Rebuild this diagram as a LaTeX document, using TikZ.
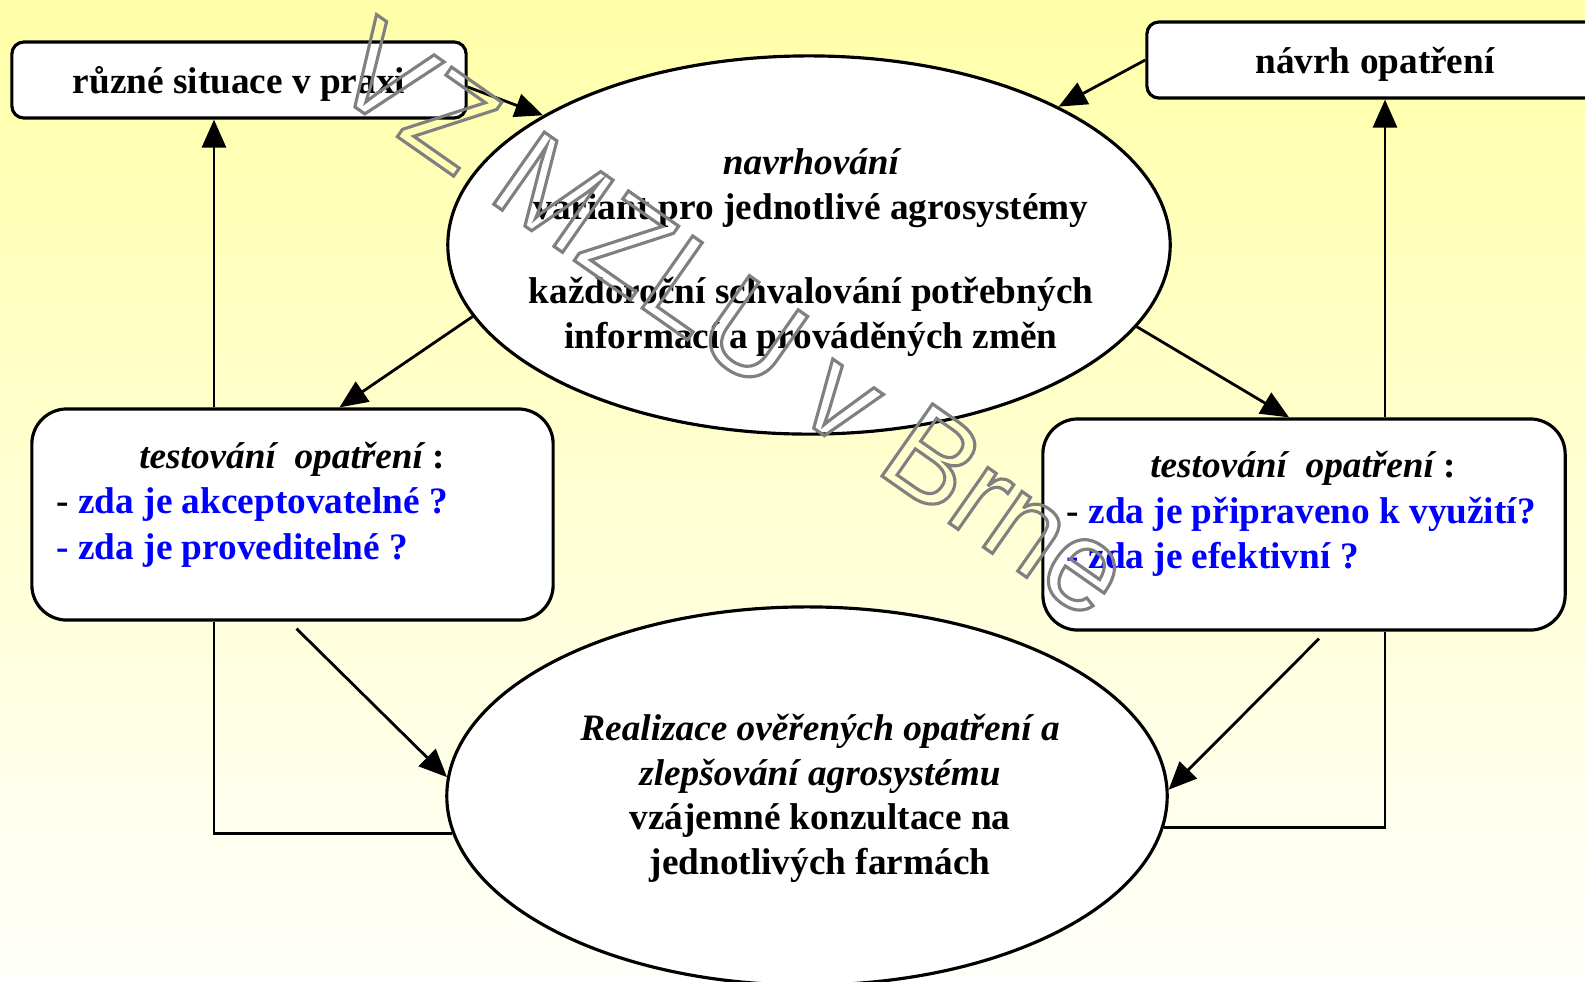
\documentclass[tikz,border=0pt]{standalone}
\usepackage{fontspec}
\setmainfont{Liberation Serif}
\newfontfamily\markfont{Liberation Sans}
\usepackage{xcolor}
\definecolor{bgTop}{HTML}{FFFFA8}
\definecolor{bgBottom}{HTML}{FFFFFB}
\definecolor{itemBlue}{HTML}{0000FF}
\definecolor{markGray}{HTML}{808080}
\usetikzlibrary{shapes.geometric,arrows.meta,positioning,calc}
\newcommand\hollowtext[1]{\special{pdf:literal direct 1 Tr 0.9 w}#1\special{pdf:literal direct 0 Tr}}
\tikzset{
    box/.style={
        draw=black,
        fill=white,
        rectangle,
        rounded corners=1.2mm,
        line width=0.9pt,
        align=center,
        inner sep=0pt,
        text depth=0pt,
        font=\fontsize{10.6}{12.9}\selectfont\bfseries
    },
    bigbox/.style={
        box,
        rounded corners=3.5mm
    },
    oval/.style={
        draw=black,
        fill=white,
        ellipse,
        line width=0.9pt,
        inner sep=0pt
    },
    txt/.style={
        inner sep=0pt,
        anchor=base,
        font=\fontsize{10.6}{12.9}\selectfont\bfseries
    },
    item/.style={
        txt,
        anchor=base west
    },
    watermark/.style={
        inner sep=0pt,
        anchor=base west,
        rotate=-35,
        xscale=0.98,
        text=markGray,
        font=\markfont\fontsize{36.4}{40}\selectfont
    },
    arrow/.style={
        -{Triangle[length=2.8mm,width=2.4mm]},
        line width=0.8pt
    },
    link/.style={
        line width=0.8pt
    }
}
\begin{document}
\begin{tikzpicture}[x=0.01cm,y=-0.01cm]
    \useasboundingbox (0,0) rectangle (1585,981);
    \clip (0,0) rectangle (1585,981);
    \shade[top color=bgTop, bottom color=bgBottom] (0,0) rectangle (1585,981);

    % Boxes
    \node[box, minimum width=4.54cm, minimum height=0.76cm] (situace) at (239,80) {různé situace v praxi};
    \node[box, minimum width=4.56cm, minimum height=0.76cm] (opatreni) at (1375,60) {návrh opatření};
    \node[bigbox, minimum width=5.21cm, minimum height=2.11cm] (testL) at (292.5,514.5) {};
    \node[bigbox, minimum width=5.22cm, minimum height=2.11cm] (testR) at (1304,524.5) {};

    % Ellipses
    \node[oval, minimum width=7.22cm, minimum height=3.78cm] (navrh) at (809,245) {};
    \node[oval, minimum width=7.20cm, minimum height=3.78cm] (real) at (807,796) {};

    % Texts of the ellipses
    \node[txt] (navrh1) at (811,174) {\itshape navrhování};
    \node[txt] (navrh2) at (811,219) {variant pro jednotlivé agrosystémy};
    \node[txt] (navrh3) at (811,303) {každoroční schvalování potřebných};
    \node[txt] (navrh4) at (811,348) {informací a prováděných změn};
    \node[txt] (real1) at (820,740) {\itshape Realizace ověřených opatření a};
    \node[txt] (real2) at (820,785) {\itshape zlepšování agrosystému};
    \node[txt] (real3) at (820,829) {vzájemné konzultace na};
    \node[txt] (real4) at (820,874) {jednotlivých farmách};

    % Texts of the test boxes
    \node[txt] (headL) at (292,468) {\itshape testování\ \ opatření\upshape\ :};
    \node[item] (itemL1) at (56,513) {- \textcolor{itemBlue}{zda je akceptovatelné ?}};
    \node[item] (itemL2) at (56,559) {\textcolor{itemBlue}{- zda je proveditelné ?}};
    \node[txt] (headR) at (1303,477) {\itshape testování\ \ opatření\upshape\ :};
    \node[item] (itemR1) at (1066,523) {- \textcolor{itemBlue}{zda je připraveno k využití?}};
    \node[item] (itemR2) at (1066,568) {\textcolor{itemBlue}{- zda je efektivní ?}};

    % Connections
    \coordinate (upL) at ([xshift=-0.25cm]situace.south);
    \coordinate (upR) at ([xshift=0.1cm]opatreni.south);
    \draw[arrow] ([yshift=-0.07cm]situace.east) -- (navrh.154);
    \draw[arrow] (opatreni.west) -- (navrh.29);
    \draw[arrow] (testL.north -| upL) -- (upL);
    \draw[arrow] (testR.north -| upR) -- (upR);
    \draw[arrow] (navrh.192) -- ([xshift=0.47cm]testL.north);
    \draw[arrow] (navrh.346) -- ([xshift=-0.15cm]testR.north);
    \draw[arrow] ([xshift=0.04cm,yshift=-0.07cm]testL.south) -- (real.177);
    \draw[arrow] ([xshift=0.15cm,yshift=-0.07cm]testR.south) -- (real.1);
    \draw[link] (testL.south -| upL) |- (real.186);
    \draw[link] (real.355) -| (testR.south -| upR);

    % Watermark
    \node[watermark] (mark) at (325,86) {\hollowtext{VZ MZLU v Brne}};
\end{tikzpicture}
\end{document}
